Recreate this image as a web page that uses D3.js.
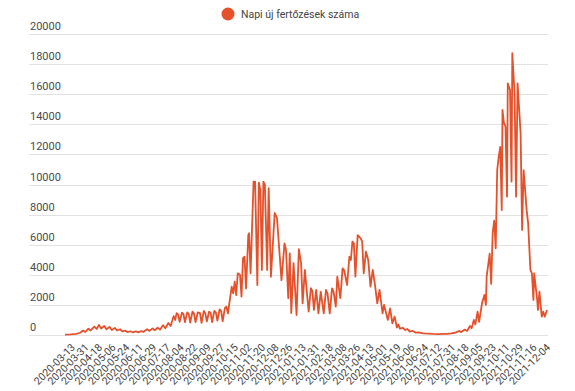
<!DOCTYPE html>
<html><head><meta charset="utf-8">
<script src="https://cdn.jsdelivr.net/npm/d3@7"></script>
<style>body{margin:0;background:#fff;} text{font-family:Roboto,"Noto Sans",sans-serif;}</style>
</head><body><svg id="c" width="575" height="391"></svg>
<script>
const seriesName = "Napi új fertőzések száma";
const tickLabels = ["2020-03-13","2020-03-31","2020-04-18","2020-05-06","2020-05-24","2020-06-11","2020-06-29","2020-07-17","2020-08-04","2020-08-22","2020-09-09","2020-09-27","2020-10-15","2020-11-02","2020-11-20","2020-12-08","2020-12-26","2021-01-13","2021-01-31","2021-02-18","2021-03-08","2021-03-26","2021-04-13","2021-05-01","2021-05-19","2021-06-06","2021-06-24","2021-07-12","2021-07-31","2021-08-18","2021-09-05","2021-09-23","2021-10-11","2021-10-29","2021-11-16","2021-12-04"];
const labelStep = 18;
const yTicks = [0,2000,4000,6000,8000,10000,12000,14000,16000,18000,20000];
// day index relative to 2020-03-13 (index 0)
const dayIdx = [-9,-1,6,11,15,18,22,25,30,33,36,39,43,46,50,53,57,60,64,67,71,74,78,81,85,88,92,95,100,103,107,110,114,117,121,124,128,131,135,137,
139,141,143,146,148,150,153,155,157,160,162,164,167,170,172,175,177,179,182,184,186,189,191,193,196,198,200,203,205,207,
212,214,216,218,220,223,225,227,229,231,234,235,237,241,243,246,248,250,252,254,256,259,261,264,269,272,278,282,284,287,289,291,294,298,301,304,306,309,
314,317,319,321,324,327,330,334,337,339,342,345,347,350,352,356,359,361,365,368,370,372,374,376,379,383,385,387,390,393,396,399,402,405,408,412,414,419,422,425,428,431,433,435,439,442,445,448,452,
456,460,466,473,479,486,492,498,503,508,510,514,516,521,524,528,530,533,535,538,540,544,547,549,550,554,556,558,560,562,564,566,568,570,571,573,575,577,578,581,583,584,587,589,591,595,597,599,603,605,608,610,612,613,617,618,620,623,625,627,630];
const cases = [20,40,80,150,300,200,420,300,560,400,670,430,600,380,540,330,470,300,380,240,290,190,250,170,240,180,260,210,380,270,440,320,480,360,650,450,800,600,1250,1000,
1450,1350,880,1480,1400,850,1500,1400,820,1550,1420,850,1500,1450,800,1600,1450,900,1550,1480,850,1600,1500,950,1700,1600,900,1800,1880,1440,
3210,2770,3540,2650,4100,4000,2550,5100,5200,3100,6650,6760,4100,10190,10190,3320,10120,9630,4320,10190,9970,4320,9750,3870,8110,7790,3650,6090,5650,2450,5430,1460,4780,1330,5700,4780,2100,4320,
1550,3120,2900,1660,2990,1440,2880,1440,2990,2770,1440,3100,2880,1880,3880,2450,4430,4320,3320,5200,4980,6200,6090,3880,6640,6420,6200,4100,5540,4980,3210,4320,3320,2100,2990,1440,2000,1000,1770,780,1220,500,700,420,480,330,400,220,270,
160,180,110,90,70,60,70,80,110,150,190,270,190,360,270,600,440,1000,700,1550,880,2150,2660,2000,3880,5400,3400,6800,7600,5760,10960,11850,12500,8300,14950,14070,13850,9190,16720,16280,10190,18720,16060,9190,16720,13400,6980,10960,8300,7420,4320,4100,2330,4100,2330,1660,2880,1220,1550,1220,1660];

const color = "#e4512b";
const svg = d3.select("#c");
const x = d3.scaleLinear().domain([d3.min(dayIdx), (tickLabels.length-1)*labelStep]).range([65, 547]);
const y = d3.scaleLinear().domain([0, 20000]).range([335, 34]);

// grid + y labels
const gy = svg.append("g");
gy.selectAll("line").data(yTicks).join("line")
  .attr("x1", 29).attr("x2", 548)
  .attr("y1", d => Math.round(y(d)) + 0.5).attr("y2", d => Math.round(y(d)) + 0.5)
  .attr("stroke", "#e2e2e2").attr("stroke-width", 1);
gy.selectAll("text").data(yTicks).join("text")
  .attr("x", 30).attr("y", d => y(d) - 4)
  .attr("font-size", 11).attr("fill", "#4a4a4a").text(d => d);

// x labels
const gx = svg.append("g");
gx.selectAll("text").data(tickLabels).join("text")
  .attr("transform", (d, k) => `translate(${x(k*labelStep)+4},348) rotate(-45)`)
  .attr("text-anchor", "end").attr("font-size", 10.5).attr("fill", "#444").text(d => d);

// line
const pts = dayIdx.map((d, k) => [d, cases[k]]);
svg.append("path").datum(pts)
  .attr("fill", "none").attr("stroke", color).attr("stroke-width", 1.8).attr("stroke-linejoin", "round")
  .attr("d", d3.line().x(d => x(d[0])).y(d => y(d[1])));

// legend
svg.append("circle").attr("cx", 228).attr("cy", 14).attr("r", 6.5).attr("fill", color);
svg.append("text").attr("x", 241).attr("y", 18).attr("font-size", 10.5).attr("fill", "#444").text(seriesName);
</script></body></html>
